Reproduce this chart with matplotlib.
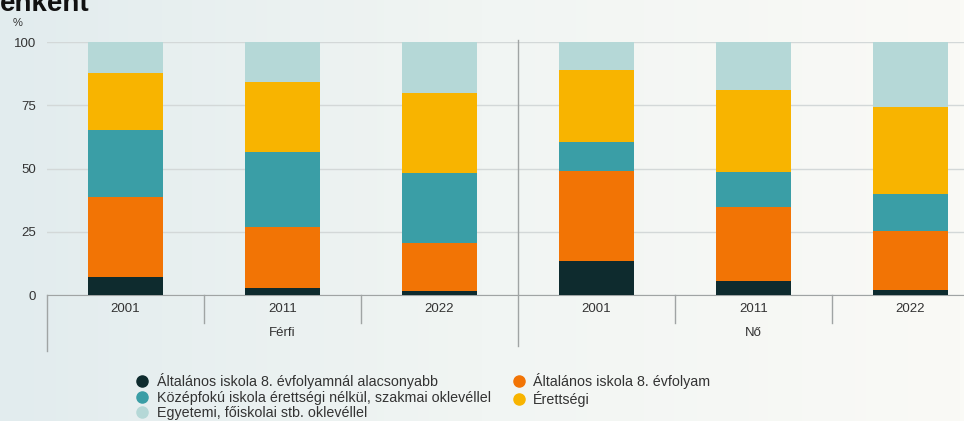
import matplotlib
matplotlib.use("Agg")
import matplotlib.pyplot as plt
from matplotlib.colors import LinearSegmentedColormap
from matplotlib.lines import Line2D
import matplotlib.transforms as mtransforms
import numpy as np

plt.rcParams["font.family"] = ["Liberation Sans", "DejaVu Sans"]

years = ["2001", "2011", "2022", "2001", "2011", "2022"]
groups = ["Férfi", "Nő"]

series_names = [
    "Általános iskola 8. évfolyamnál alacsonyabb",
    "Általános iskola 8. évfolyam",
    "Középfokú iskola érettségi nélkül, szakmai oklevéllel",
    "Érettségi",
    "Egyetemi, főiskolai stb. oklevéllel",
]
below_8 = [7.1, 3.0, 1.7, 13.5, 5.5, 2.1]
grade_8 = [31.8, 24.0, 19.0, 35.4, 29.3, 23.1]
vocational = [26.5, 29.6, 27.7, 11.8, 13.7, 14.8]
matura = [22.4, 27.6, 31.4, 28.4, 32.7, 34.3]
degree = [12.2, 15.8, 20.2, 10.9, 18.8, 25.7]

colors = ["#0e2b2e", "#f27405", "#3a9ea6", "#f8b400", "#b5d8d7"]
series = [below_8, grade_8, vocational, matura, degree]

fig = plt.figure(figsize=(9.64, 4.21), dpi=100)

# scan-like tinted background
bg = fig.add_axes([0, 0, 1, 1], zorder=-10)
cmap = LinearSegmentedColormap.from_list("bg", ["#e2ecee", "#f1f5f3", "#fafaf6"])
bg.imshow(np.linspace(0, 1, 256)[None, :], aspect="auto", cmap=cmap, extent=[0, 1, 0, 1])
bg.axis("off")

ax = fig.add_axes([0.0488, 0.299, 0.977, 0.601])
ax.patch.set_alpha(0)

x = np.arange(len(years))
bottom = np.zeros(len(years))
for vals, col, name in zip(series, colors, series_names):
    ax.bar(x, vals, bottom=bottom, width=0.48, color=col, label=name, zorder=3)
    bottom += np.array(vals)

ax.set_xlim(-0.5, 5.5)
ax.set_ylim(0, 100)
ax.set_yticks([0, 25, 50, 75, 100])
ax.set_yticklabels(["0", "25", "50", "75", "100"])
ax.yaxis.grid(True, color="#d3d8d8", linewidth=1, zorder=0)
ax.tick_params(axis="y", length=0, pad=8, labelsize=9.5, labelcolor="#333333")
ax.set_xticks(x)
ax.set_xticklabels(years)
ax.tick_params(axis="x", length=0, pad=6, labelsize=9.5, labelcolor="#333333")
for s in ["top", "right", "left"]:
    ax.spines[s].set_visible(False)
ax.spines["bottom"].set_color("#a0a4a4")

trans = mtransforms.blended_transform_factory(ax.transData, ax.transAxes)
for b in [0.5, 1.5, 3.5, 4.5]:
    ax.plot([b, b], [0, -0.11], transform=trans, color="#a0a4a4", lw=1, clip_on=False)
ax.plot([-0.5, -0.5], [0, -0.22], transform=trans, color="#a0a4a4", lw=1, clip_on=False)
ax.plot([2.5, 2.5], [1.01, -0.20], transform=trans, color="#a0a4a4", lw=1, clip_on=False)

for gi, g in enumerate(groups):
    ax.text(1 + 3 * gi, -0.15, g, transform=trans, ha="center", va="center",
            fontsize=9.5, color="#333333")

fig.text(13 / 964, 1 - 23 / 421, "%", fontsize=8, color="#333333", va="center")
fig.text(0.0, 1 - 11 / 421, "enként", fontsize=20, fontweight="bold",
         color="#111111", va="baseline", ha="left")

order = [0, 2, 4, 1, 3]
handles = [Line2D([], [], marker="o", linestyle="none", markersize=8,
                  markerfacecolor=colors[i], markeredgecolor=colors[i]) for i in order]
labels = [series_names[i] for i in order]
fig.legend(handles, labels, ncol=2, loc="upper left",
           bbox_to_anchor=(129.5 / 964, 1 - 366 / 421), frameon=False,
           fontsize=10.3, labelspacing=0.1, handletextpad=0.6, columnspacing=1.55,
           handlelength=0.8, borderpad=0, labelcolor="#333333")

fig.savefig("out.png", dpi=100)
